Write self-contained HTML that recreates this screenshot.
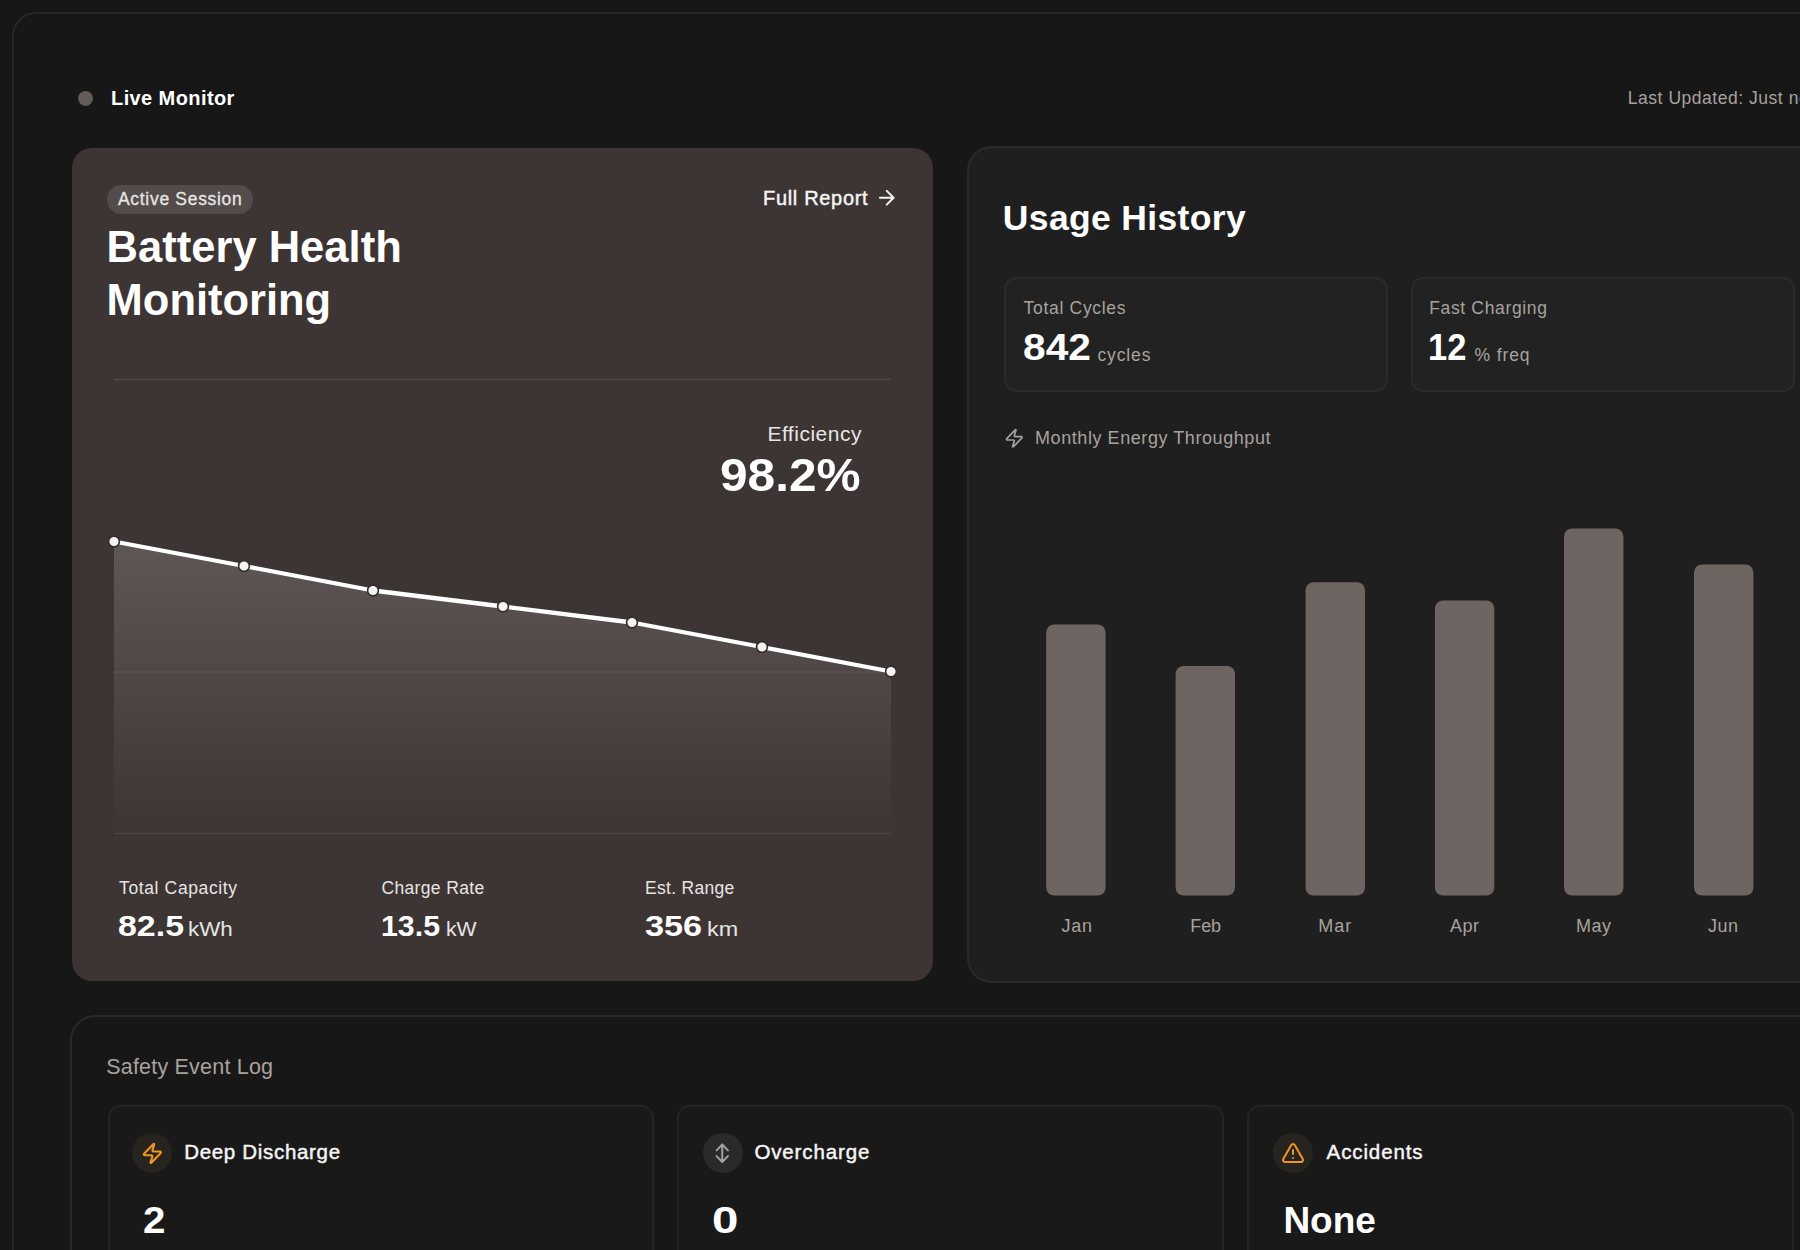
<!DOCTYPE html>
<html lang="en">
<head>
<meta charset="utf-8">
<title>Battery Health Monitoring</title>
<style>
*{box-sizing:border-box;margin:0;padding:0}
html,body{width:1800px;height:1250px;overflow:hidden;background:#171717;font-family:"Liberation Sans",sans-serif;color:#fff}
.abs{position:absolute;white-space:nowrap}
#shell{position:absolute;left:12px;top:12px;width:1900px;height:1400px;border:2px solid #272727;border-radius:24px;background:#171717}
#main{position:absolute;left:72px;top:148px;width:861.3px;height:833px;background:#3d3533;border-radius:20px}
#usage{position:absolute;left:967px;top:146.3px;width:900px;height:837px;background:#1f1f1f;border:2px solid #2a2a2a;border-radius:25px}
#safety{position:absolute;left:70px;top:1015px;width:1800px;height:400px;background:#171717;border:2px solid #292929;border-radius:25px}
.stat{position:absolute;top:277px;width:383.8px;height:114.7px;background:#222222;border:2px solid #2b2b2b;border-radius:12.5px}
.bar{position:absolute;width:59px;background:#6f6461;border-radius:9px}
.ev{position:absolute;top:1104.6px;width:546.5px;height:300px;border:2px solid #242424;border-radius:12.5px;background:#191919}
.ic{position:absolute;width:40px;height:40px;border-radius:50%;background:#262626}
</style>
</head>
<body>
<div id="shell"></div>
<div class="abs" style="left:77.5px;top:90.7px;width:15px;height:15px;border-radius:50%;background:#625b58"></div>

<div id="main"></div>
<div class="abs" style="left:107px;top:184.6px;height:29px;width:146px;border-radius:15px;background:#544c4a"></div>
<svg class="abs" style="left:875.15px;top:186.15px" width="23.5" height="23.5" viewBox="0 0 24 24" fill="none" stroke="#f5f5f4" stroke-width="2" stroke-linecap="round" stroke-linejoin="round"><path d="M5 12h14M12 5l7 7-7 7"/></svg>

<svg class="abs" style="left:100px;top:370px" width="810" height="480" viewBox="100 370 810 480">
<defs><linearGradient id="g" x1="0" y1="0" x2="0" y2="1"><stop offset="0" stop-color="#ffffff" stop-opacity="0.17"/><stop offset="1" stop-color="#ffffff" stop-opacity="0"/></linearGradient></defs>
<line x1="114" x2="891" y1="379.5" y2="379.5" stroke="#514947" stroke-width="1.5"/>
<line x1="114" x2="891" y1="833.5" y2="833.5" stroke="#4b4341" stroke-width="1.5"/>
<path d="M114 541.5 L244 566 L373 590.5 L503 606.5 L632 622.5 L762 647 L891 671.5 L891 833 L114 833Z" fill="url(#g)"/>
<line x1="114" x2="891" y1="672" y2="672" stroke="#5a5250" stroke-width="1.5"/>
<path d="M114 541.5 L244 566 L373 590.5 L503 606.5 L632 622.5 L762 647 L891 671.5" fill="none" stroke="#fff" stroke-width="4.3" stroke-linejoin="round" stroke-linecap="round"/>
<g fill="#f4f4f4" stroke="#352d2b" stroke-width="1.6">
<circle cx="114" cy="541.5" r="5.4"/><circle cx="244" cy="566" r="5.4"/><circle cx="373" cy="590.5" r="5.4"/><circle cx="503" cy="606.5" r="5.4"/><circle cx="632" cy="622.5" r="5.4"/><circle cx="762" cy="647" r="5.4"/><circle cx="891" cy="671.5" r="5.4"/>
</g>
</svg>

<div id="usage"></div>
<div class="stat" style="left:1004px"></div>
<div class="stat" style="left:1411.3px"></div>
<svg class="abs" style="left:1004.2px;top:427.6px" width="20.6" height="20.6" viewBox="0 0 24 24" fill="none" stroke="#a8a29e" stroke-width="2" stroke-linecap="round" stroke-linejoin="round"><path d="M4 14a1 1 0 0 1-.78-1.63l9.9-10.2a.5.5 0 0 1 .86.46l-1.92 6.02A1 1 0 0 0 13 10h7a1 1 0 0 1 .78 1.63l-9.9 10.2a.5.5 0 0 1-.86-.46l1.92-6.02A1 1 0 0 0 11 14z"/></svg>

<svg class="abs" style="left:1000px;top:500px" width="800" height="420" viewBox="1000 500 800 420"><g fill="#6e6461">
<rect x="1046.2" y="624.4" width="59.4" height="271.2" rx="8" ry="8"/>
<rect x="1175.6" y="666.0" width="59.4" height="229.6" rx="8" ry="8"/>
<rect x="1305.6" y="582.2" width="59.4" height="313.4" rx="8" ry="8"/>
<rect x="1434.9" y="600.4" width="59.4" height="295.2" rx="8" ry="8"/>
<rect x="1564.0" y="528.4" width="59.4" height="367.2" rx="8" ry="8"/>
<rect x="1694.0" y="564.4" width="59.4" height="331.2" rx="8" ry="8"/>
</g></svg>

<div id="safety"></div>
<div class="ev" style="left:107.5px"></div>
<div class="ev" style="left:677.3px"></div>
<div class="ev" style="left:1247.3px"></div>

<div class="ic" style="left:132.4px;top:1133px;background:#27231f"></div>
<svg class="abs" style="left:141.1px;top:1141.9px" width="22.8" height="22.8" viewBox="0 0 24 24" fill="none" stroke="#ee9526" stroke-width="2.25" stroke-linecap="round" stroke-linejoin="round"><path d="M4 14a1 1 0 0 1-.78-1.63l9.9-10.2a.5.5 0 0 1 .86.46l-1.92 6.02A1 1 0 0 0 13 10h7a1 1 0 0 1 .78 1.63l-9.9 10.2a.5.5 0 0 1-.86-.46l1.92-6.02A1 1 0 0 0 11 14z"/></svg>

<div class="ic" style="left:702.7px;top:1133px;background:#2a2a2a"></div>
<svg class="abs" style="left:711.25px;top:1142px" width="22.5" height="22.5" viewBox="0 0 24 24" fill="none" stroke="#a3a09e" stroke-width="2.1" stroke-linecap="round" stroke-linejoin="round"><path d="M12 2.7v18.6M6 9l6-6.3 6 6.3M6 15l6 6.3 6-6.3"/></svg>

<div class="ic" style="left:1272.6px;top:1133px;background:#27231f"></div>
<svg class="abs" style="left:1281px;top:1141px" width="24" height="24" viewBox="0 0 24 24" fill="none" stroke="#ee9526" stroke-width="2" stroke-linecap="round" stroke-linejoin="round"><path d="M21.73 18l-8-14a2 2 0 0 0-3.48 0l-8 14A2 2 0 0 0 4 21h16a2 2 0 0 0 1.73-3zM12 9v4M12 17h.01"/></svg>

<div class="abs" id="live" style="left:111.00px;top:86px;font-size:20px;line-height:24px;font-weight:700;color:#fff;letter-spacing:0.409px">Live Monitor</div>
<div class="abs" id="badge" style="left:118.00px;top:188.2px;font-size:17.5px;line-height:22px;font-weight:400;color:#e7e5e4;-webkit-text-stroke:0.3px #e7e5e4;letter-spacing:0.692px">Active Session</div>
<div class="abs" id="title1" style="left:106.60px;top:221px;font-size:43.5px;line-height:53px;font-weight:700;color:#fff;letter-spacing:0.015px">Battery Health</div>
<div class="abs" id="title2" style="left:106.60px;top:273.5px;font-size:43.5px;line-height:53px;font-weight:700;color:#fff;letter-spacing:-0.011px">Monitoring</div>
<div class="abs" id="full" style="left:763.00px;top:186px;font-size:20px;line-height:24px;font-weight:400;color:#f5f5f4;-webkit-text-stroke:0.45px #f5f5f4;letter-spacing:0.680px">Full Report</div>
<div class="abs" id="eff" style="left:767.40px;top:422px;font-size:21px;line-height:24px;font-weight:400;color:#e7e5e4;letter-spacing:0.511px">Efficiency</div>
<div class="abs" id="effv" style="left:720.15px;top:448px;font-size:47px;line-height:54px;font-weight:700;color:#fff;transform:scaleX(1.0550);transform-origin:0 0">98.2%</div>
<div class="abs" id="l1" style="left:119.00px;top:876.5px;font-size:17.5px;line-height:22px;font-weight:400;color:#e7e5e4;letter-spacing:0.631px">Total Capacity</div>
<div class="abs" id="n1" style="left:117.66px;top:905.8px;font-size:30px;line-height:40px;font-weight:700;color:#fff;transform:scaleX(1.1304);transform-origin:0 0">82.5</div>
<div class="abs" id="u1" style="left:188.07px;top:917.3px;font-size:20.5px;line-height:24px;font-weight:400;color:#e7e5e4;transform:scaleX(1.0923);transform-origin:0 0">kWh</div>
<div class="abs" id="l2" style="left:381.40px;top:876.5px;font-size:17.5px;line-height:22px;font-weight:400;color:#e7e5e4;letter-spacing:0.360px">Charge Rate</div>
<div class="abs" id="n2" style="left:381.39px;top:905.8px;font-size:30px;line-height:40px;font-weight:700;color:#fff;transform:scaleX(1.0107);transform-origin:0 0">13.5</div>
<div class="abs" id="u2" style="left:446.17px;top:917.3px;font-size:20.5px;line-height:24px;font-weight:400;color:#e7e5e4;transform:scaleX(1.0345);transform-origin:0 0">kW</div>
<div class="abs" id="l3" style="left:645.00px;top:876.5px;font-size:17.5px;line-height:22px;font-weight:400;color:#e7e5e4;letter-spacing:0.300px">Est. Range</div>
<div class="abs" id="n3" style="left:644.86px;top:905.8px;font-size:30px;line-height:40px;font-weight:700;color:#fff;transform:scaleX(1.1417);transform-origin:0 0">356</div>
<div class="abs" id="u3" style="left:707.29px;top:917.3px;font-size:20.5px;line-height:24px;font-weight:400;color:#e7e5e4;transform:scaleX(1.1400);transform-origin:0 0">km</div>
<div class="abs" id="uh" style="left:1002.80px;top:196.6px;font-size:35.5px;line-height:42px;font-weight:700;color:#fff;letter-spacing:0.350px">Usage History</div>
<div class="abs" id="l4" style="left:1023.60px;top:296.5px;font-size:17.5px;line-height:22px;font-weight:400;color:#a8a29e;letter-spacing:0.691px">Total Cycles</div>
<div class="abs" id="n4" style="left:1022.53px;top:326.4px;font-size:37px;line-height:44px;font-weight:700;color:#fff;transform:scaleX(1.1000);transform-origin:0 0">842</div>
<div class="abs" id="u4" style="left:1097.40px;top:343.6px;font-size:17.5px;line-height:22px;font-weight:400;color:#a8a29e;letter-spacing:0.880px">cycles</div>
<div class="abs" id="l5" style="left:1429.20px;top:296.5px;font-size:17.5px;line-height:22px;font-weight:400;color:#a8a29e;letter-spacing:0.658px">Fast Charging</div>
<div class="abs" id="n5" style="left:1428.14px;top:326.4px;font-size:37px;line-height:44px;font-weight:700;color:#fff;transform:scaleX(0.9316);transform-origin:0 0">12</div>
<div class="abs" id="u5" style="left:1474.60px;top:343.6px;font-size:17.5px;line-height:22px;font-weight:400;color:#a8a29e;letter-spacing:0.880px">% freq</div>
<div class="abs" id="met" style="left:1035.00px;top:426.5px;font-size:18px;line-height:22px;font-weight:400;color:#a8a29e;letter-spacing:0.571px">Monthly Energy Throughput</div>
<div class="abs" id="saf" style="left:106.20px;top:1053.5px;font-size:21.5px;line-height:26px;font-weight:400;color:#a8a29e;letter-spacing:0.207px">Safety Event Log</div>
<div class="abs" id="e1" style="left:184.20px;top:1140px;font-size:20.5px;line-height:24px;font-weight:400;color:#f5f5f4;-webkit-text-stroke:0.45px #f5f5f4;letter-spacing:0.685px">Deep Discharge</div>
<div class="abs" id="v1" style="left:142.66px;top:1199px;font-size:37px;line-height:44px;font-weight:700;color:#fff;transform:scaleX(1.0889);transform-origin:0 0">2</div>
<div class="abs" id="e2" style="left:754.40px;top:1140px;font-size:20.5px;line-height:24px;font-weight:400;color:#f5f5f4;-webkit-text-stroke:0.45px #f5f5f4;letter-spacing:0.867px">Overcharge</div>
<div class="abs" id="v2" style="left:711.89px;top:1199px;font-size:37px;line-height:44px;font-weight:700;color:#fff;transform:scaleX(1.2824);transform-origin:0 0">0</div>
<div class="abs" id="e3" style="left:1326.60px;top:1140px;font-size:20.5px;line-height:24px;font-weight:400;color:#f5f5f4;-webkit-text-stroke:0.45px #f5f5f4;letter-spacing:0.888px">Accidents</div>
<div class="abs" id="v3" style="left:1283.40px;top:1199px;font-size:37px;line-height:44px;font-weight:700;color:#fff">None</div>
<div class="abs" id="m1" style="left:1061.60px;top:915px;font-size:18px;line-height:22px;font-weight:400;color:#a8a29e;letter-spacing:0.650px">Jan</div>
<div class="abs" id="m2" style="left:1190.20px;top:915px;font-size:18px;line-height:22px;font-weight:400;color:#a8a29e;letter-spacing:-0.050px">Feb</div>
<div class="abs" id="m3" style="left:1318.20px;top:915px;font-size:18px;line-height:22px;font-weight:400;color:#a8a29e;letter-spacing:1.050px">Mar</div>
<div class="abs" id="m4" style="left:1450.00px;top:915px;font-size:18px;line-height:22px;font-weight:400;color:#a8a29e;letter-spacing:0.500px">Apr</div>
<div class="abs" id="m5" style="left:1576.00px;top:915px;font-size:18px;line-height:22px;font-weight:400;color:#a8a29e;letter-spacing:0.500px">May</div>
<div class="abs" id="m6" style="left:1708.00px;top:915px;font-size:18px;line-height:22px;font-weight:400;color:#a8a29e;letter-spacing:0.500px">Jun</div>
<div class="abs" id="upd" style="left:1627.80px;top:87px;font-size:17.5px;line-height:22px;font-weight:400;color:#a8a29e;letter-spacing:0.530px">Last Updated: Just now</div>
</body>
</html>
